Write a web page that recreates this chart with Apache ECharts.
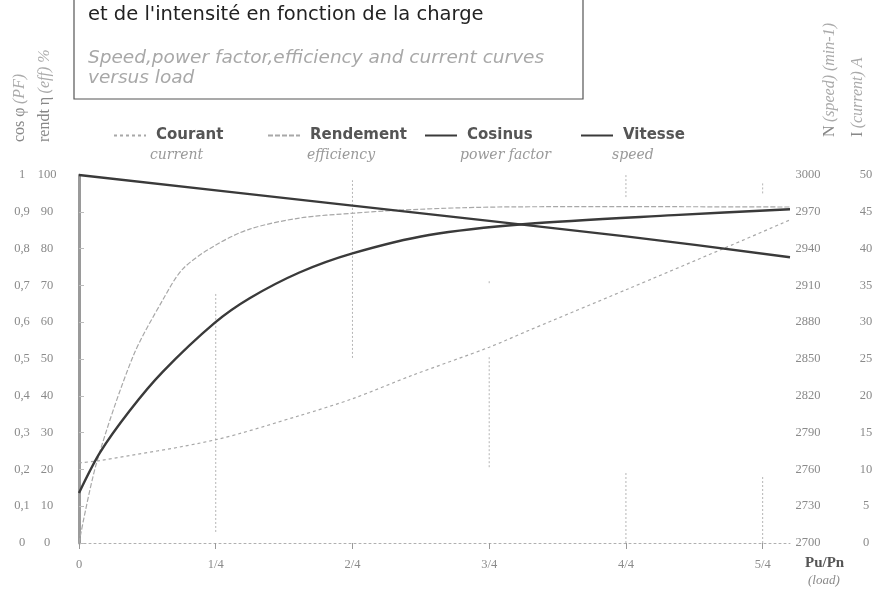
<!DOCTYPE html>
<html>
<head>
<meta charset="utf-8">
<script src="https://cdn.jsdelivr.net/npm/echarts@6/dist/echarts.min.js"></script>
<style>
  html, body { margin: 0; padding: 0; background: #fff; }
  #chart { width: 884px; height: 592px; }
</style>
</head>
<body>
<div id="chart"></div>
<script>
// Load fraction Pu/Pn on the x axis
const loadTicks = [0, 0.25, 0.5, 0.75, 1.0, 1.25];
const loadTickLabels = ['0', '1/4', '2/4', '3/4', '4/4', '5/4'];

// Courant (current, A)
const courantLoad = [0, 0.038, 0.248, 0.403, 0.5, 0.61, 0.75, 0.823, 1.0, 1.175, 1.3];
const courantAmps = [10.9, 11.2, 14.0, 17.3, 19.6, 22.8, 26.6, 28.9, 34.4, 39.9, 43.9];

// Rendement (efficiency, %)
const rendLoad = [0, 0.032, 0.0985, 0.153, 0.19, 0.248, 0.312, 0.403, 0.5, 0.58, 0.70, 0.80, 1.0, 1.3];
const rendPct  = [0, 21.7, 50.6, 66.0, 74.5, 80.8, 85.3, 88.3, 89.6, 90.4, 91.1, 91.35, 91.4, 91.3];

// Cosinus (power factor)
const cosLoad = [0, 0.038, 0.093, 0.153, 0.248, 0.312, 0.403, 0.5, 0.64, 0.817, 1.088, 1.3];
const cosPhi  = [0.136, 0.245, 0.36, 0.465, 0.598, 0.665, 0.735, 0.787, 0.837, 0.867, 0.891, 0.907];

// Vitesse (speed, min-1)
const vitLoad = [0, 0.5, 1.0, 1.3];
const vitRpm  = [3000, 2975, 2950, 2933];

// Dotted drop lines: [load, from %, to %]
const guideSegments = [
  [0.25, 3, 68],
  [0.5, 50.3, 98.6],
  [0.75, 20.6, 51],
  [0.75, 70.6, 71.4],
  [1.0, 0, 19],
  [1.0, 94, 100.5],
  [1.25, 0, 18.5],
  [1.25, 95, 98]
];

const zip = (xs, ys) => xs.map((x, i) => [x, ys[i]]);

const tickFont = { fontFamily: 'Liberation Serif', fontSize: 12.5, color: '#8a8a8a' };
const lightGray = '#a8a8a8';
const darkLine = '#3a3a3a';

const chart = echarts.init(document.getElementById('chart'));

function legendAt(name, left) {
  return {
    data: [name],
    left: left,
    top: 123,
    itemWidth: 32,
    itemHeight: 14,
    selectedMode: false,
    itemStyle: { opacity: 0 },
    textStyle: { fontFamily: 'DejaVu Sans', fontSize: 15, fontWeight: 'bold', color: '#555', padding: [0, 0, 0, 5] }
  };
}

const subCaption = (text, left) => ({
  type: 'text', left: left, top: 148,
  style: { text: text, font: 'italic 14px "DejaVu Serif"', fill: '#999' }
});

// rotated axis title: upright main part, lighter italic unit part
const sideTitle = (main, unit, x, y) => ({
  type: 'text', x: x, y: y, rotation: Math.PI / 2,
  style: {
    text: '{a|' + main + '} {b|' + unit + '}',
    textAlign: 'left', textVerticalAlign: 'middle',
    rich: {
      a: { fontFamily: 'Liberation Serif', fontSize: 16, fill: '#888' },
      b: { fontFamily: 'Liberation Serif', fontStyle: 'italic', fontSize: 16, fill: '#aaa' }
    }
  }
});

const option = {
  animation: false,
  backgroundColor: '#fff',
  grid: { left: 79, right: 94, top: 175, bottom: 49 },
  legend: [
    legendAt('Courant', 108),
    legendAt('Rendement', 262),
    legendAt('Cosinus', 419),
    legendAt('Vitesse', 575)
  ],
  xAxis: {
    type: 'value',
    min: 0,
    max: 1.3,
    interval: 0.25,
    splitLine: { show: false },
    axisLine: { show: true, lineStyle: { color: '#b0b0b0', width: 1, type: [2, 3] } },
    axisTick: { show: true, customValues: loadTicks, length: 6, lineStyle: { color: '#999' } },
    axisLabel: {
      customValues: loadTicks,
      margin: 15,
      ...tickFont,
      formatter: v => {
        const i = loadTicks.findIndex(t => Math.abs(t - v) < 1e-6);
        return i >= 0 ? loadTickLabels[i] : '';
      }
    }
  },
  yAxis: [
    {
      // rendement %
      type: 'value', position: 'left', min: 0, max: 100, interval: 10,
      splitLine: { show: false },
      axisLine: { show: true, lineStyle: { color: '#9a9a9a', width: 3 } },
      axisTick: { show: true, inside: true, length: 5, lineStyle: { color: '#bbb' } },
      axisLabel: { margin: 32, align: 'center', ...tickFont }
    },
    {
      // cos phi
      type: 'value', position: 'left', min: 0, max: 1, interval: 0.1,
      splitLine: { show: false },
      axisLine: { show: false }, axisTick: { show: false },
      axisLabel: {
        margin: 57, align: 'center', ...tickFont,
        formatter: v => String(Math.round(v * 10) / 10).replace('.', ',')
      }
    },
    {
      // vitesse min-1
      type: 'value', position: 'right', min: 2700, max: 3000, interval: 30,
      splitLine: { show: false },
      axisLine: { show: false }, axisTick: { show: false },
      axisLabel: { margin: 18, align: 'center', ...tickFont, formatter: v => String(v) }
    },
    {
      // courant A
      type: 'value', position: 'right', min: 0, max: 50, interval: 5,
      splitLine: { show: false },
      axisLine: { show: false }, axisTick: { show: false },
      axisLabel: { margin: 76, align: 'center', ...tickFont }
    }
  ],
  series: [
    {
      name: 'guides',
      type: 'custom',
      yAxisIndex: 0,
      silent: true,
      data: guideSegments,
      renderItem: (params, api) => {
        const p0 = api.coord([api.value(0), api.value(1)]);
        const p1 = api.coord([api.value(0), api.value(2)]);
        return {
          type: 'line',
          shape: { x1: p0[0], y1: p0[1], x2: p1[0], y2: p1[1] },
          style: { stroke: '#b5b5b5', lineWidth: 1, lineDash: [2, 2] }
        };
      }
    },
    {
      name: 'Courant', type: 'line', yAxisIndex: 3, symbol: 'none', smooth: 0.3,
      data: zip(courantLoad, courantAmps),
      lineStyle: { color: lightGray, width: 1.2, type: [3, 3] },
      itemStyle: { color: lightGray }
    },
    {
      name: 'Rendement', type: 'line', yAxisIndex: 0, symbol: 'none', smooth: 0.3,
      data: zip(rendLoad, rendPct),
      lineStyle: { color: lightGray, width: 1.2, type: [5, 2] },
      itemStyle: { color: lightGray }
    },
    {
      name: 'Cosinus', type: 'line', yAxisIndex: 1, symbol: 'none', smooth: 0.3,
      data: zip(cosLoad, cosPhi),
      lineStyle: { color: darkLine, width: 2.4 },
      itemStyle: { color: darkLine }
    },
    {
      name: 'Vitesse', type: 'line', yAxisIndex: 2, symbol: 'none', smooth: 0.3,
      data: zip(vitLoad, vitRpm),
      lineStyle: { color: darkLine, width: 2.4 },
      itemStyle: { color: darkLine }
    }
  ],
  graphic: [
    // caption box
    {
      type: 'rect', silent: true,
      shape: { x: 74, y: -4, width: 509, height: 103 },
      style: { fill: 'none', stroke: '#555', lineWidth: 1.2 }
    },
    {
      type: 'text', left: 88, top: 5,
      style: { text: "et de l'intensité en fonction de la charge", font: '19.5px "DejaVu Sans"', fill: '#222' }
    },
    {
      type: 'text', left: 88, top: 49,
      style: { text: 'Speed,power factor,efficiency and current curves', font: 'italic 18.5px "DejaVu Sans"', fill: '#a8a8a8' }
    },
    {
      type: 'text', left: 88, top: 69,
      style: { text: 'versus load', font: 'italic 18.5px "DejaVu Sans"', fill: '#a8a8a8' }
    },
    // legend sub-captions
    subCaption('current', 150),
    subCaption('efficiency', 307),
    subCaption('power factor', 460),
    subCaption('speed', 612),
    // axis titles
    sideTitle('cos φ', '(PF)', 20, 142),
    sideTitle('rendt η', '(eff) %', 45, 142),
    sideTitle('N', '(speed) (min-1)', 830, 137),
    sideTitle('I', '(current) A', 858, 137),
    // x axis name
    { type: 'text', left: 805, top: 556, style: { text: 'Pu/Pn', font: 'bold 15px "Liberation Serif"', fill: '#555' } },
    { type: 'text', left: 808, top: 574, style: { text: '(load)', font: 'italic 13px "Liberation Serif"', fill: '#8a8a8a' } }
  ]
};

chart.setOption(option);
</script>
</body>
</html>
